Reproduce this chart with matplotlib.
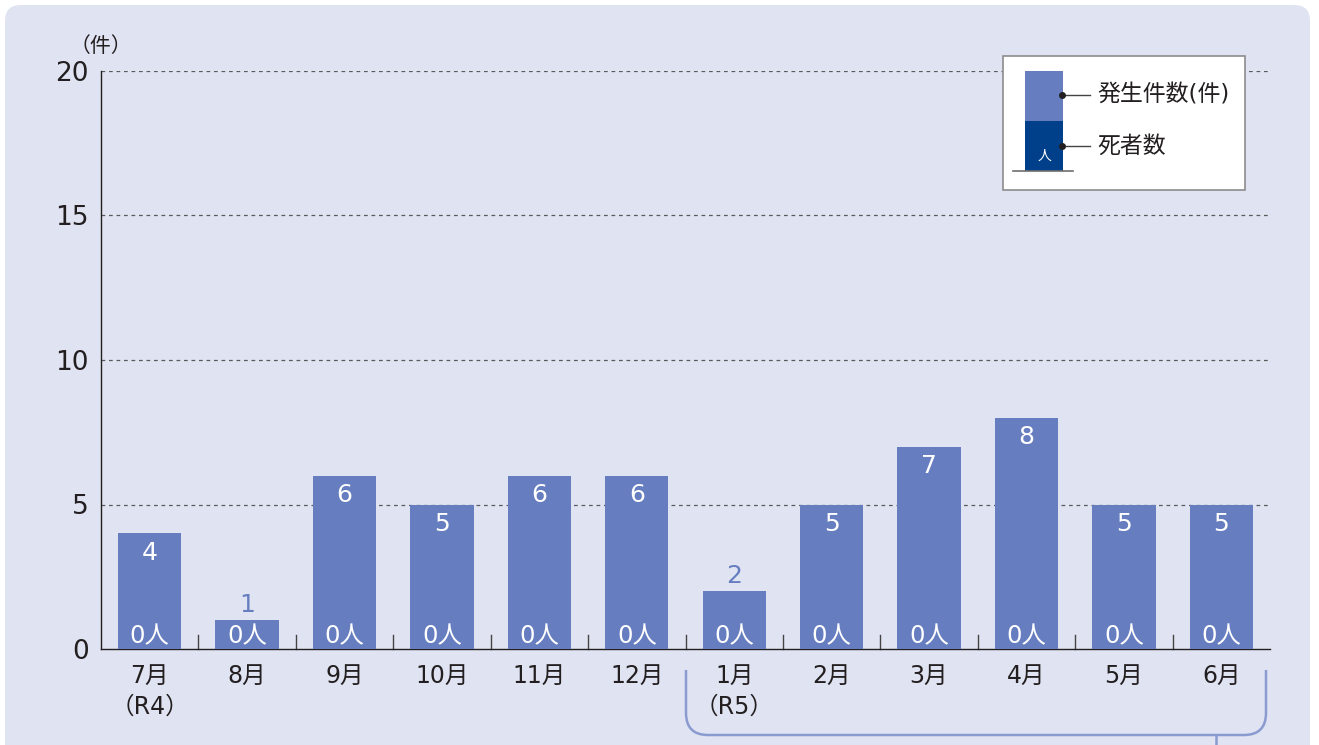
import matplotlib.pyplot as plt
from matplotlib.patches import FancyBboxPatch, Rectangle
from matplotlib.path import Path
from matplotlib.patches import PathPatch

plt.rcParams['font.family'] = ['DejaVu Sans', 'Noto Sans CJK JP']

# data
months = ['7月', '8月', '9月', '10月', '11月', '12月', '1月', '2月', '3月', '4月', '5月', '6月']
sublabels = ['（R4）', '', '', '', '', '', '（R5）', '', '', '', '', '']
cases = [4, 1, 6, 5, 6, 6, 2, 5, 7, 8, 5, 5]
deaths = [0, 0, 0, 0, 0, 0, 0, 0, 0, 0, 0, 0]

BAR = '#667ec0'
DARK = '#00408a'
BG = '#e0e3f2'
TXT = '#231f20'
BRACKET = '#8a9bd0'

W, H = 1319, 745
fig = plt.figure(figsize=(W / 100, H / 100), dpi=100)
fig.patch.set_facecolor('white')

# rounded background panel
panel = FancyBboxPatch((5 / W, -20 / H), 1305 / W, 760 / H,
                       boxstyle='round,pad=0,rounding_size=0.012',
                       transform=fig.transFigure, facecolor=BG, edgecolor='none',
                       mutation_aspect=W / H, zorder=-5)
fig.patches.append(panel)

ax = fig.add_axes([101 / W, 1 - 649 / H, 1169 / W, 578 / H])
ax.set_facecolor('none')
x = list(range(len(months)))
ax.bar(x, cases, width=0.65, color=BAR, zorder=3)
ax.set_xlim(-0.5, len(months) - 0.5)
ax.set_ylim(0, 20)

for s in ['top', 'right']:
    ax.spines[s].set_visible(False)
ax.spines['left'].set_color(TXT)
ax.spines['bottom'].set_color(TXT)
ax.spines['left'].set_linewidth(1.0)
ax.spines['bottom'].set_linewidth(1.0)

for yv in [5, 10, 15, 20]:
    ax.axhline(yv, color='#5a5b5e', linestyle=(0, (3, 3)), linewidth=0.9, zorder=1)

ax.set_yticks([0, 5, 10, 15, 20])
ax.set_yticklabels(['0', '5', '10', '15', '20'], fontsize=19, color=TXT)
ax.tick_params(axis='y', length=0, pad=9)
ax.set_xticks([])

# small category separator ticks on the baseline
for k in range(1, len(months)):
    ax.plot([k - 0.5, k - 0.5], [0, 0.5], color='#444444', linewidth=1.0, zorder=2, clip_on=False)

ax.text(-0.5, 20.85, '（件）', fontsize=15, color=TXT, ha='center', va='center')

for i, (c, d) in enumerate(zip(cases, deaths)):
    if c >= 3:
        ax.text(i, c - 0.25, str(c), ha='center', va='top', fontsize=18, color='white', zorder=4)
    else:
        ax.text(i, c + 0.1, str(c), ha='center', va='bottom', fontsize=18, color=BAR, zorder=4)
    ax.text(i, 0.45, f'{d}人', ha='center', va='center', fontsize=17.5, color='white', zorder=4)

for i, (m, s) in enumerate(zip(months, sublabels)):
    ax.text(i, -0.92, m, ha='center', va='center', fontsize=17, color=TXT)
    if s:
        ax.text(i, -2.0, s, ha='center', va='center', fontsize=17, color=TXT)

# bracket under R5 months (pixel coords)
def px(xp, yp):
    return xp / W, 1 - yp / H

r = 22
verts = [px(686, 670), px(686, 735 - r), px(686, 735), px(686 + r, 735),
         px(1266 - r, 735), px(1266, 735), px(1266, 735 - r), px(1266, 670)]
codes = [Path.MOVETO, Path.LINETO, Path.CURVE3, Path.CURVE3,
         Path.LINETO, Path.CURVE3, Path.CURVE3, Path.LINETO]
fig.patches.append(PathPatch(Path(verts, codes), transform=fig.transFigure,
                             facecolor='none', edgecolor=BRACKET, linewidth=1.8))
fig.lines.append(plt.Line2D([1216 / W, 1216 / W], [1 - 735 / H, 0], transform=fig.transFigure,
                            color=BRACKET, linewidth=1.8))

# legend box
fig.patches.append(Rectangle(px(1003, 190), 242 / W, 134 / H, transform=fig.transFigure,
                             facecolor='white', edgecolor='#8c8c8c', linewidth=1.2, zorder=5))
fig.patches.append(Rectangle(px(1025, 121), 38 / W, 50 / H, transform=fig.transFigure,
                             facecolor=BAR, edgecolor='none', zorder=6))
fig.patches.append(Rectangle(px(1025, 171), 38 / W, 50 / H, transform=fig.transFigure,
                             facecolor=DARK, edgecolor='none', zorder=6))
fig.lines.append(plt.Line2D([1013 / W, 1073 / W], [1 - 171 / H] * 2, transform=fig.transFigure,
                            color='#6d6e71', linewidth=1.2, zorder=7))
fig.text(1044 / W, 1 - 156 / H, '人', fontsize=10, color='white', ha='center', va='center', zorder=7)
for yp, lab in [(95, '発生件数(件)'), (146, '死者数')]:
    fig.lines.append(plt.Line2D([1062 / W, 1090 / W], [1 - yp / H] * 2, transform=fig.transFigure,
                                color='#444444', linewidth=1.0, zorder=7))
    fig.lines.append(plt.Line2D([1062 / W], [1 - yp / H], transform=fig.transFigure,
                                marker='o', markersize=4, color='#231f20', zorder=7))
    fig.text(1097 / W, 1 - yp / H, lab, fontsize=16.5, color=TXT, ha='left', va='center', zorder=7)

fig.savefig('out.png', dpi=100, facecolor='white')
